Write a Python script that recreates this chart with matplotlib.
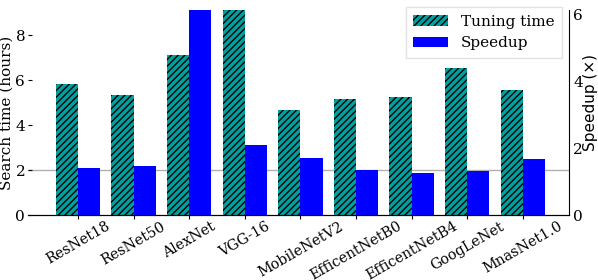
import matplotlib
matplotlib.use("Agg")
import matplotlib.pyplot as plt
import numpy as np

models = ["ResNet18", "ResNet50", "AlexNet", "VGG-16", "MobileNetV2",
          "EfficentNetB0", "EfficentNetB4", "GoogLeNet", "MnasNet1.0"]
tuning_hours = [5.82, 5.33, 7.11, 9.5, 4.67, 5.16, 5.24, 6.53, 5.56]
speedup = [1.39, 1.47, 6.5, 2.09, 1.71, 1.34, 1.25, 1.31, 1.67]

plt.rcParams['font.family'] = 'DejaVu Serif'
plt.rcParams['hatch.linewidth'] = 1.0

fig = plt.figure(figsize=(5.98, 2.8), dpi=100)
left_px, right_px = 28, 569
ax1 = fig.add_axes([left_px / 598, 0.232, (right_px - left_px) / 598, 0.732])
ax2 = ax1.twinx()

x = np.arange(len(models))
w = 0.4
ax1.axhline(2, color='#b0b0b0', lw=1.0, zorder=0)
b1 = ax1.bar(x - w / 2, tuning_hours, w, color='#00a0a0', edgecolor='black',
             hatch='/////', linewidth=0, label='Tuning time', zorder=2)
b2 = ax2.bar(x + w / 2, speedup, w, color='#0000ff', label='Speedup', zorder=2)

ax1.set_xlim(-0.9, 8.83)
ax1.set_ylim(0, 9.11)
ax2.set_ylim(0, 6.12)

ax1.set_xticks(x)
ax1.set_xticklabels(models, rotation=30, ha='center', fontsize=10.3)
ax1.set_yticks([0, 2, 4, 6, 8])
ax1.tick_params(axis='y', labelsize=11, length=3, direction='in', pad=2)
ax1.tick_params(axis='x', length=3, pad=0)
ax2.set_yticks([0, 2, 4, 6])
ax2.tick_params(axis='y', labelsize=11, length=0, pad=3)

ax1.set_ylabel('Search time (hours)', fontsize=11)
ax1.yaxis.set_label_coords(-0.027, 0.5)
ax2.set_ylabel('Speedup (×)', fontsize=11, family='DejaVu Sans')
ax2.yaxis.set_label_coords(1.026, 0.55)

for a in (ax1, ax2):
    a.spines['top'].set_visible(False)
    a.spines['left'].set_visible(False)
ax1.spines['right'].set_visible(False)

leg = ax2.legend([b1, b2], ['Tuning time', 'Speedup'], loc='upper right',
                 bbox_to_anchor=(0.987, 1.015), borderaxespad=0, fontsize=11,
                 frameon=True, fancybox=False, edgecolor='#dddddd',
                 framealpha=0.8, handlelength=2.3, borderpad=0.5)

fig.savefig('out.png', dpi=100)
